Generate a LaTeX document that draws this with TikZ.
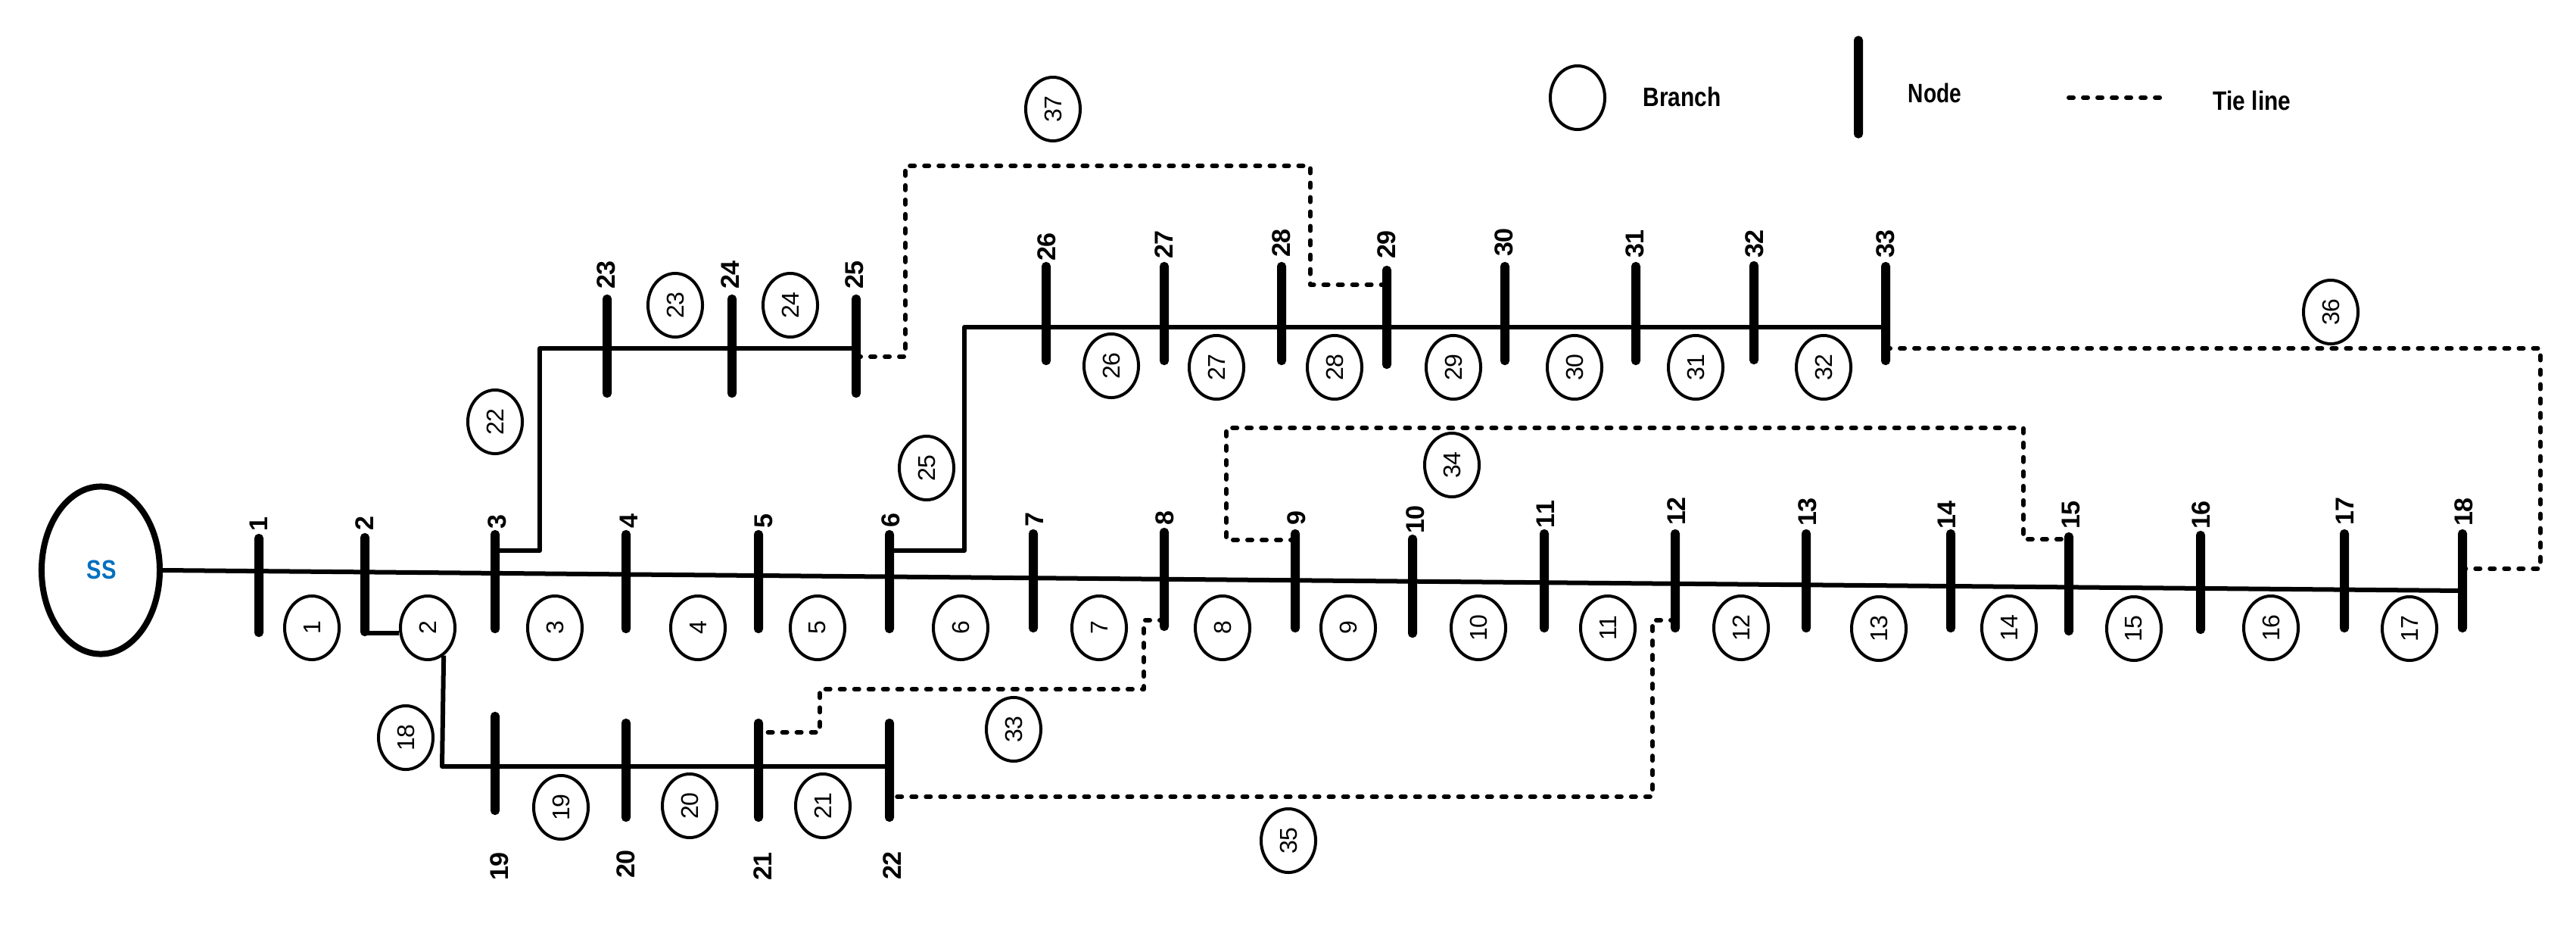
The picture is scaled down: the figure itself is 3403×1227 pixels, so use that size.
\documentclass[tikz,border=0pt]{standalone}
\usepackage{fontspec}
\setmainfont{Liberation Sans}
\usetikzlibrary{shapes.geometric}
\definecolor{ssblue}{HTML}{0070C0}
\tikzset{
  x=0.01cm,y=-0.01cm,
  wire/.style={draw=black,line width=0.06cm,line join=round},
  tie/.style={draw=black,line width=0.06cm,line cap=round,line join=round,dash pattern=on 0.06cm off 0.13cm},
  busbar/.style={rectangle,fill=black,minimum width=0.12cm,minimum height=#1,inner sep=0pt,rounded corners=0.055cm},
  busbar/.default=1.36cm,
  buslbl/.style={rotate=90,inner sep=0pt,font=\fontsize{9.7}{10}\selectfont\bfseries},
  brn/.style={ellipse,draw=black,line width=0.04cm,fill=white,minimum width=0.72cm,minimum height=0.84cm,inner sep=0pt,font=\fontsize{9.1}{10}\selectfont},
  lgd/.style={inner sep=0pt,font=\fontsize{10}{11}\selectfont\bfseries},
}
\begin{document}
\begin{tikzpicture}
\useasboundingbox (0,0) rectangle (3403,1227);
% substation
\node[ellipse,draw=black,line width=0.08cm,fill=white,minimum width=1.56cm,minimum height=2.21cm,inner sep=0pt] (ss) at (133,753) {};
\node[lgd,text=ssblue] (sstxt) at (134,752) {\scalebox{0.83}[1]{SS}};
% buses
\foreach \n/\x/\y in {1/342/773,2/482/772,3/654/768,4/827/768,5/1002/768,6/1175/768,7/1365/767,8/1538/765,9/1711/767,10/1866/774,11/2040/767,12/2213/767,13/2386/767,14/2577/767,15/2733/771,16/2907/769,17/3097/767,18/3253/767,19/654/1008,20/827/1017,21/1002/1017,22/1175/1017,23/802/457,24/967/457,25/1131/457,26/1382/414,27/1538/414,28/1693/414,29/1832/419,30/1988/414,31/2161/414,32/2317/413,33/2491/414}
  \node[busbar] (b\n) at (\x,\y) {};
% bus labels
\foreach \n/\x/\y in {1/342/692,2/482/691,3/657/689,4/831/688,5/1009/688,6/1177/687,7/1367/686,8/1539/684,9/1713/684,10/1870/686,11/2042/679,12/2215/675,13/2388/676,14/2572/680,15/2736/680,16/2908/680,17/3098/675,18/3255/676,19/660/1144,20/827/1141,21/1008/1144,22/1179/1143,23/801/363,24/965/363,25/1129/363,26/1383/326,27/1538/323,28/1693/321,29/1832/323,30/1987/320,31/2160/322,32/2318/322,33/2491/322}
  \node[buslbl] (l\n) at (\x,\y) {\n};
% branch circles
\foreach \n/\x/\y in {1/412/829,2/565/829,3/733/829,4/922/829,5/1080/829,6/1269/829,7/1452/829,8/1615/829,9/1781/829,10/1953/829,11/2124/829,12/2300/829,13/2482/830,14/2654/829,15/2819/830,16/3000/829,17/3183/830,18/536/974,19/741/1066,20/911/1064,21/1087/1064,22/654/557,23/892/403,24/1044/403,25/1224/618,26/1468/483,27/1607/485,28/1763/485,29/1920/485,30/2080/485,31/2240/485,32/2409/485,33/1339/963,34/1918/614,35/1702/1110,36/3079/412,37/1391/144}
  \node[brn] (br\n) at (\x,\y) {\rotatebox{90}{\n}};
% main feeder
\draw[wire] (ss.east) -- (b18 |- 0,780);
% lateral feeders
\draw[wire] (b2 |- 0,836) -- (br2.west |- 0,836);
\draw[wire] (br2.-60) -- (584,1012) -- (b22 |- 0,1012);
\draw[wire] (b3 |- 0,727) -- (713,727) -- (713,460) -- (b25 |- 0,460);
\draw[wire] (b6 |- 0,727) -- (1274,727) -- (1274,432) -- (b33 |- 0,432);
% tie lines
\draw[tie] (b8 |- 0,819) -- (1511,819) -- (1511,910) -- (1083,910) -- (1083,967) -- (b21 |- 0,967);
\draw[tie] (b9 |- 0,713) -- (1620,713) -- (1620,565) -- (2673,565) -- (2673,712) -- (b15 |- 0,712);
\draw[tie] (b12 |- 0,819) -- (2183,819) -- (2183,1052) -- (b22 |- 0,1052);
\draw[tie] (b33 |- 0,460) -- (3356,460) -- (3356,751) -- (b18 |- 0,751);
\draw[tie] (b25 |- 0,471) -- (1196,471) -- (1196,219) -- (1731,219) -- (1731,376) -- (b29 |- 0,376);
% legend
\node[brn] (lgbr) at (2084,129) {};
\node[lgd] (lgbrtxt) at (2222,128) {\scalebox{0.85}[1]{Branch}};
\node[busbar=1.35cm] (lgbus) at (2455,115) {};
\node[lgd] (lgbustxt) at (2556,123) {\scalebox{0.8}[1]{Node}};
\coordinate (lgta) at (2733,129);
\coordinate (lgtb) at (2855,129);
\draw[tie] (lgta) -- (lgtb);
\node[lgd] (lgttxt) at (2975,133) {\scalebox{0.85}[1]{Tie line}};
\end{tikzpicture}
\end{document}
